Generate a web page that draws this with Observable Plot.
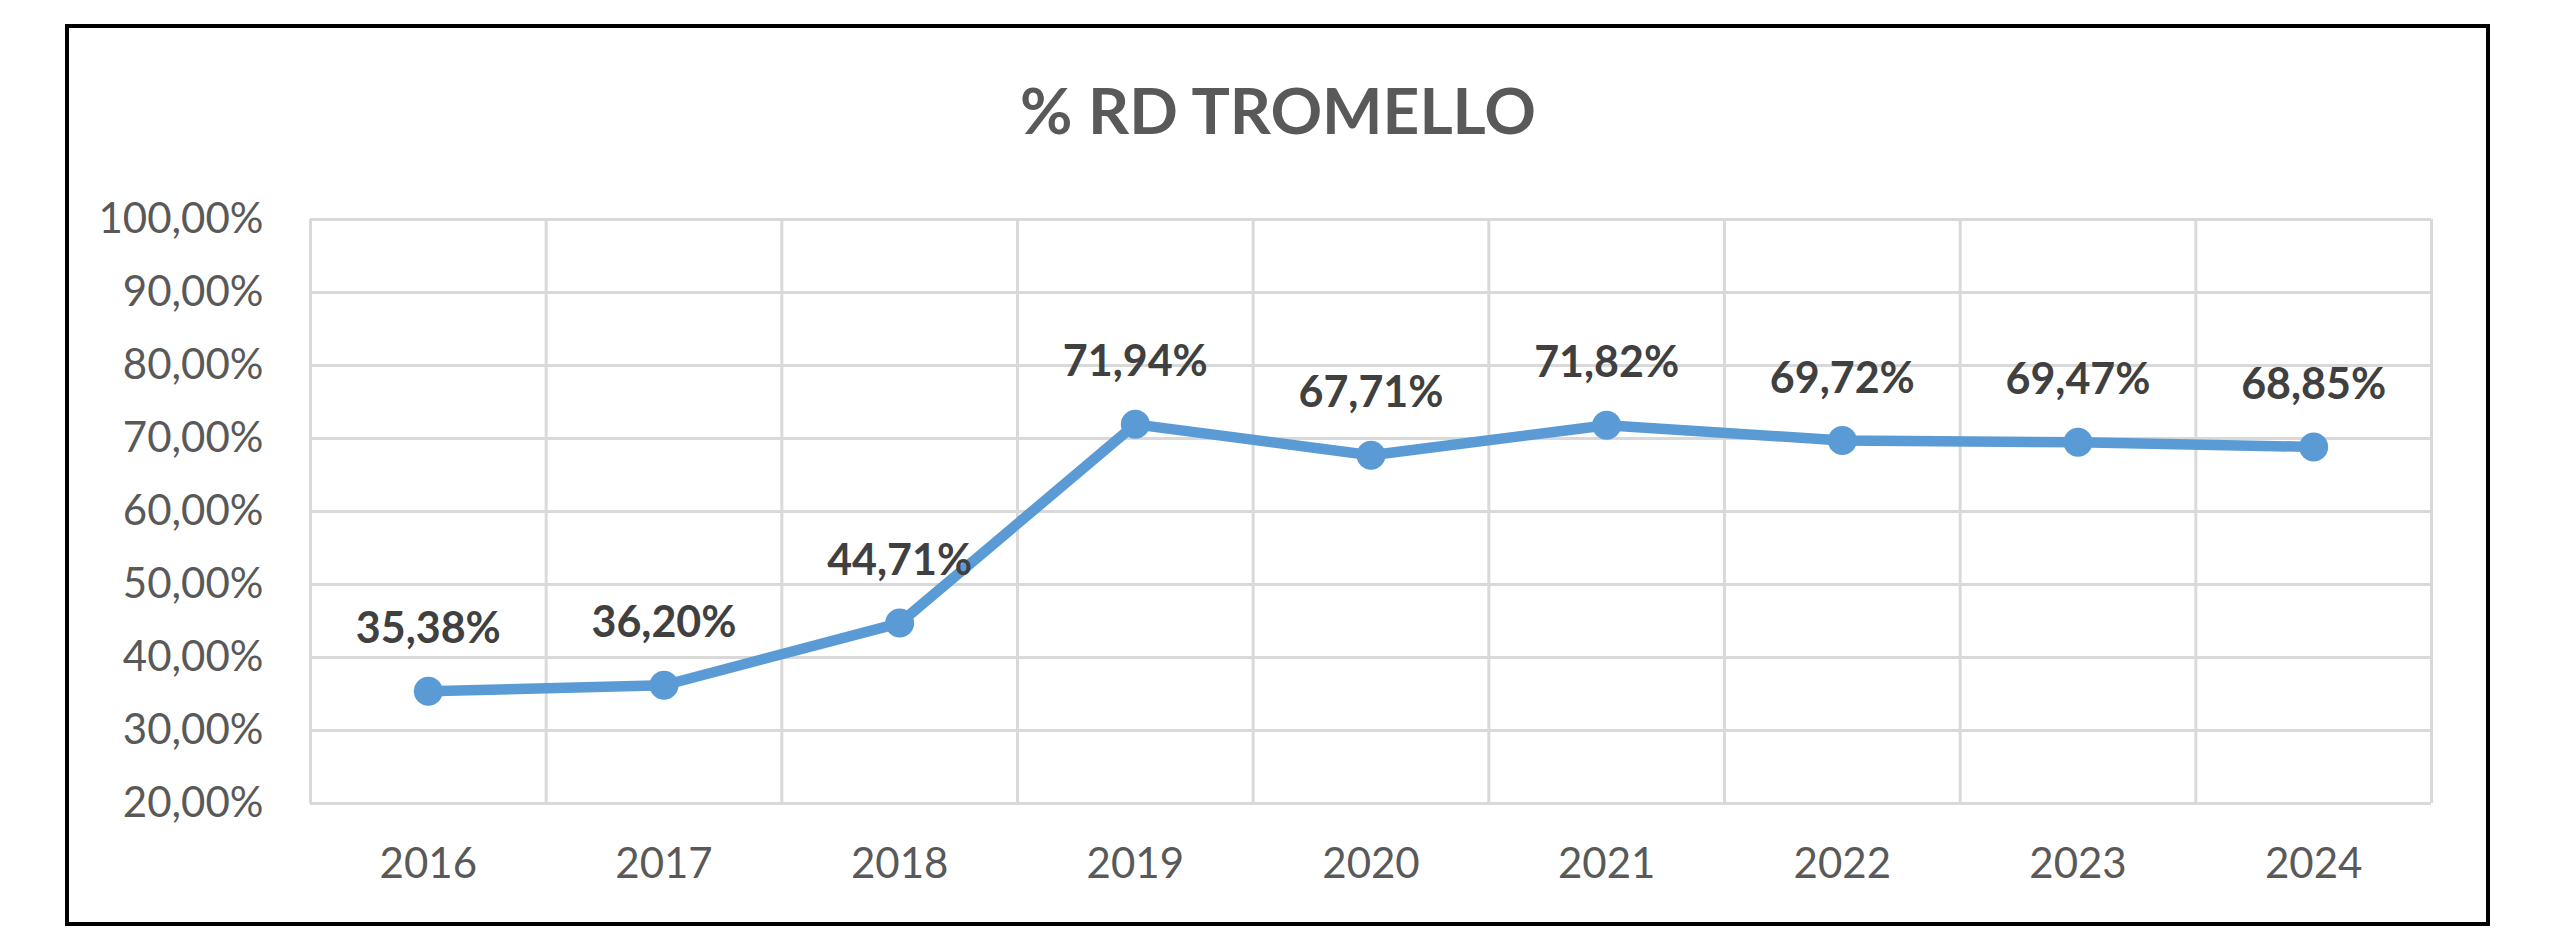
<!DOCTYPE html>
<html><head><meta charset="utf-8">
<script src="https://cdn.jsdelivr.net/npm/d3@7"></script>
<script src="https://cdn.jsdelivr.net/npm/@observablehq/plot@0.6"></script>
<style>
html,body{margin:0;padding:0;background:#fff;}
#wrap{position:relative;width:2560px;height:938px;overflow:hidden;background:#fff;}
#frame{position:absolute;left:65px;top:24px;width:2417px;height:894px;border:4px solid #000;}
#title{position:absolute;left:0;width:2556px;top:78px;text-align:center;font-family:Lato,sans-serif;font-weight:700;font-size:64px;color:#595959;line-height:1;}
#chart{position:absolute;left:0;top:160px;}
</style></head>
<body>
<div id="wrap">
  <div id="frame"></div>
  <div id="title">% RD TROMELLO</div>
  <div id="chart"></div>
</div>
<script>
const years = [2016, 2017, 2018, 2019, 2020, 2021, 2022, 2023, 2024];
const values = [35.38, 36.20, 44.71, 71.94, 67.71, 71.82, 69.72, 69.47, 68.85];
const yTicks = [20, 30, 40, 50, 60, 70, 80, 90, 100];

const fmt = d => d.toFixed(2).replace(".", ",") + "%";
const data = years.map((y, i) => ({year: y, value: values[i], label: fmt(values[i])}));
const bounds = years.map(y => y - 0.5).concat([years[years.length - 1] + 0.5]);

const grid = "#d9d9d9";
const blue = "#5B9BD5";

const chart = Plot.plot({
  width: 2560,
  height: 778,
  marginTop: 59,
  marginBottom: 135,
  marginLeft: 310,
  marginRight: 129,
  style: {fontFamily: "Lato, sans-serif", fontSize: "42px", color: "#595959", background: "transparent"},
  x: {type: "linear", domain: [bounds[0], bounds[bounds.length - 1]]},
  y: {domain: [20, 100]},
  marks: [
    Plot.ruleY(yTicks, {stroke: grid, strokeWidth: 3}),
    Plot.ruleX(bounds, {stroke: grid, strokeWidth: 3}),
    Plot.axisX({ticks: years, tickFormat: d => String(d), tickSize: 0, tickPadding: 45, fontSize: 42, label: null}),
    Plot.axisY({ticks: yTicks, tickFormat: fmt, tickSize: 0, tickPadding: 47, fontSize: 42, label: null}),
    Plot.line(data, {x: "year", y: "value", stroke: blue, strokeWidth: 10.5, strokeLinejoin: "round"}),
    Plot.dot(data, {x: "year", y: "value", r: 14.5, fill: blue, stroke: null}),
    Plot.text(data, {x: "year", y: "value", text: "label", dy: -48, lineAnchor: "bottom", fontSize: 43, fontWeight: 700, fill: "#404040"})
  ]
});
document.getElementById("chart").appendChild(chart);
</script>
</body></html>
